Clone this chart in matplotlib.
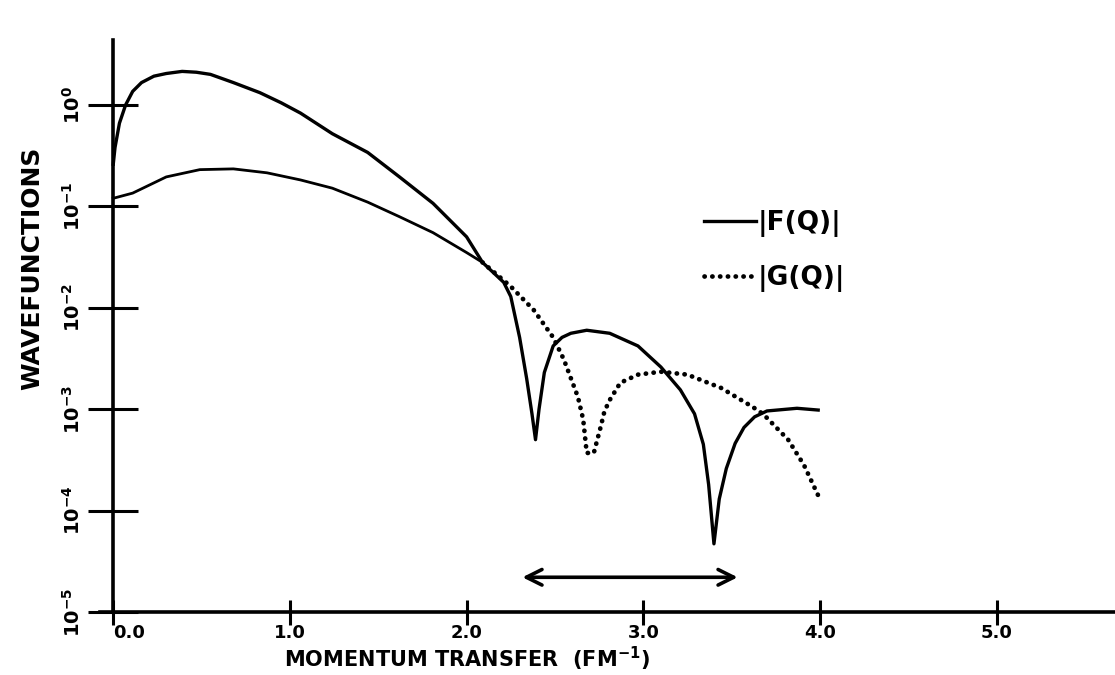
import matplotlib
matplotlib.use("Agg")
import matplotlib.pyplot as plt

plt.rcParams["font.family"] = "DejaVu Sans"
plt.rcParams["font.weight"] = "bold"
plt.rcParams["mathtext.default"] = "bf"

# |F(Q)|
f_q = [0.0, 0.01, 0.035, 0.07, 0.11, 0.16, 0.23, 0.30, 0.39, 0.47, 0.55, 0.68, 0.83, 0.95, 1.06, 1.24,
       1.44, 1.62, 1.81, 2.00, 2.09, 2.21, 2.25, 2.30, 2.34, 2.37, 2.39, 2.41, 2.44, 2.49,
       2.54, 2.59, 2.68, 2.81, 2.97, 3.10, 3.21, 3.29, 3.34, 3.37, 3.40, 3.43, 3.47, 3.52,
       3.57, 3.63, 3.70, 3.87, 3.99]
f_val = [0.26, 0.38, 0.66, 1.0, 1.36, 1.66, 1.92, 2.04, 2.14, 2.10, 2.0, 1.66, 1.32, 1.05, 0.83, 0.52,
         0.34, 0.195, 0.107, 0.050, 0.028, 0.0178, 0.0129, 5.1e-3, 2.0e-3, 9.0e-4, 5.0e-4, 1.0e-3, 2.3e-3, 4.2e-3,
         5.1e-3, 5.6e-3, 6.0e-3, 5.6e-3, 4.2e-3, 2.6e-3, 1.55e-3, 9.0e-4, 4.5e-4, 1.8e-4, 4.7e-5, 1.3e-4, 2.6e-4, 4.6e-4,
         6.6e-4, 8.4e-4, 9.6e-4, 1.02e-3, 9.8e-4]

# |G(Q)|
g_q = [0.0, 0.11, 0.30, 0.49, 0.68, 0.87, 1.06, 1.24, 1.44, 1.62, 1.81, 2.00,
       2.09, 2.25, 2.38, 2.49, 2.55, 2.63, 2.66, 2.68, 2.72, 2.76, 2.78, 2.81,
       2.87, 2.97, 3.10, 3.25, 3.44, 3.62, 3.68, 3.82, 3.91, 3.99]
g_val = [0.12, 0.135, 0.195, 0.23, 0.234, 0.214, 0.182, 0.151, 0.110, 0.079, 0.055, 0.035,
         0.028, 0.0162, 9.5e-3, 5.1e-3, 3.1e-3, 1.32e-3, 7.9e-4, 3.7e-4, 3.7e-4, 6.8e-4, 9.5e-4, 1.23e-3,
         1.82e-3, 2.19e-3, 2.34e-3, 2.19e-3, 1.62e-3, 1.05e-3, 8.9e-4, 5.0e-4, 2.8e-4, 1.41e-4]
g_split = 12  # index where the trace turns visibly dotted

x_ticks = [0, 1, 2, 3, 4, 5]
x_labels = ["0.0", "1.0", "2.0", "3.0", "4.0", "5.0"]
y_ticks = [1e0, 1e-1, 1e-2, 1e-3, 1e-4, 1e-5]
y_labels = [r"$10^{0}$", r"$10^{-1}$", r"$10^{-2}$", r"$10^{-3}$", r"$10^{-4}$", r"$10^{-5}$"]

arrow_q = [2.30, 3.55]
arrow_val = 2.2e-5

dots = (0, (0.05, 1.6))

fig = plt.figure(figsize=(11.15, 6.75), dpi=100)
ax = fig.add_axes([100 / 1115, 63 / 675, 1015 / 1115, 572 / 675])

ax.set_yscale("log")
ax.set_xlim(-0.075, 5.67)
ax.set_ylim(10 ** -4.995, 10 ** 0.64)

ax.plot(f_q, f_val, color="black", lw=2.4, solid_joinstyle="round", label="|F(Q)|")
ax.plot(g_q[:g_split + 1], g_val[:g_split + 1], color="black", lw=2.0)
ax.plot(g_q[g_split:], g_val[g_split:], color="black", lw=3.4,
        linestyle=dots, dash_capstyle="round")
ax.plot([], [], color="black", lw=3.4, linestyle=dots,
        dash_capstyle="round", label="|G(Q)|")

ax.annotate("", xy=(arrow_q[1], arrow_val), xytext=(arrow_q[0], arrow_val),
            arrowprops=dict(arrowstyle="<->", lw=2.6, color="black", mutation_scale=28))

for side in ["top", "right"]:
    ax.spines[side].set_visible(False)
ax.spines["left"].set_position(("data", 0))
ax.spines["left"].set_linewidth(2.6)
ax.spines["bottom"].set_linewidth(2.6)

ax.set_xticks(x_ticks)
ax.set_xticklabels(x_labels, fontsize=13, fontweight="bold")
ax.get_xticklabels()[0].set_ha("left")
ax.set_yticks(y_ticks)
ax.set_yticklabels(y_labels, fontsize=14, rotation=90, va="center")
ax.minorticks_off()
ax.tick_params(axis="x", direction="inout", length=18, width=2.2, pad=0)
ax.tick_params(axis="y", direction="inout", length=36, width=2.2, pad=3)

ax.set_xlabel("MOMENTUM TRANSFER  (FM$^{-1}$)", fontsize=15, fontweight="bold")
ax.set_ylabel("WAVEFUNCTIONS", fontsize=18, fontweight="bold")
ax.yaxis.set_label_coords(-0.055, 0.601)
ax.xaxis.set_label_coords(0.362, -0.058)

ax.legend(loc="upper left", bbox_to_anchor=(0.572, 0.744), frameon=False,
          fontsize=19, handlelength=1.97, handletextpad=0.05, labelspacing=1.05)

fig.savefig("out.png", dpi=100)
